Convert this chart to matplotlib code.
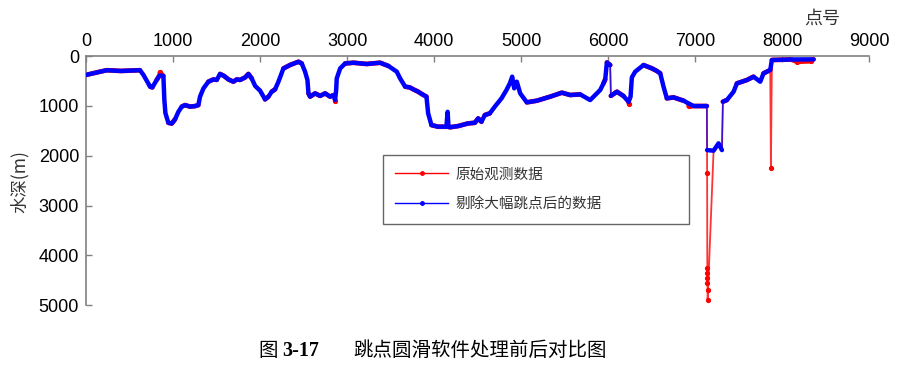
#!/usr/bin/env python3
"""
Depth profile before / after jump-point smoothing (figure 3-17).
Output: out.png
"""

import matplotlib
matplotlib.use("Agg")
import matplotlib.pyplot as plt
from matplotlib.lines import Line2D
import numpy as np

# ---------------------------------------------------------------------------
# Style
# ---------------------------------------------------------------------------
RAW_COLOR = "#ff0000"
CLEAN_COLOR = "#0000ff"
SPINE_GRAY = "#808080"
TEXT_DARK = "#333333"
CJK = ["Noto Sans CJK SC", "DejaVu Sans"]

plt.rcParams.update({
    "font.family": ["Liberation Sans", "Noto Sans CJK SC", "DejaVu Sans"],
    "font.size": 13,
})

# ---------------------------------------------------------------------------
# Data
# ---------------------------------------------------------------------------
# point number / depth (m) of the cleaned profile
POINT_NO = [
    0, 160, 240, 400, 620, 660, 736, 762, 812, 845, 889, 900, 912, 946, 985,
    1023, 1061, 1100, 1138, 1195, 1253, 1291, 1310, 1349, 1406, 1464, 1502,
    1540, 1586, 1636, 1693, 1732, 1770, 1828, 1866, 1904, 1943, 2000, 2057,
    2096, 2134, 2172, 2211, 2268, 2345, 2441, 2479, 2517, 2544, 2556, 2575,
    2632, 2690, 2747, 2805, 2843, 2862, 2874, 2881, 2920, 2977, 3073, 3226,
    3379, 3475, 3571, 3609, 3667, 3720, 3762, 3816, 3858, 3912, 3931, 3969,
    4046, 4141, 4155, 4165, 4180, 4276, 4391, 4468, 4506, 4544, 4582, 4640,
    4697, 4774, 4831, 4870, 4897, 4920, 4950, 4989, 5065, 5180, 5333, 5468,
    5563, 5678, 5793, 5851, 5908, 5946, 5966, 5985, 6023, 6031, 6100, 6176,
    6234, 6257, 6272, 6310, 6406, 6502, 6559, 6598, 6636, 6674, 6751, 6866,
    6981, 7134, 7136, 7211, 7268, 7307, 7318, 7364, 7441, 7479, 7594, 7670,
    7747, 7785, 7862, 7881, 8100, 8360,
]
CLEAN_DEPTH = [
    380, 315, 285, 300, 285, 380, 615, 630, 480, 390, 400, 880, 1145, 1340, 1355,
    1270, 1120, 1015, 985, 1015, 1005, 985, 815, 650, 515, 470, 480,
    360, 400, 470, 515, 470, 480, 430, 360, 450, 600, 695, 870,
    815, 715, 670, 515, 250, 180, 115, 150, 315, 480, 750, 815,
    750, 800, 750, 815, 785, 880, 685, 450, 250, 150, 135, 160,
    135, 200, 315, 450, 615, 630, 670, 716, 763, 816, 1150, 1386,
    1419, 1419, 1120, 1420, 1430, 1406, 1352, 1340, 1252, 1320, 1185, 1150,
    1017, 850, 683, 549, 415, 649, 515, 750, 930, 897, 816, 736,
    783, 770, 884, 783, 683, 549, 470, 130, 181, 800, 716, 803,
    920, 816, 430, 315, 181, 248, 300, 348, 616, 850, 830, 897,
    1004, 1004, 1888, 1900, 1753, 1888, 917, 884, 716, 549, 482, 415,
    516, 348, 281, 80, 70, 67,
]

# extra points present only in the original (raw) record
RAW_ONLY_NO = [850, 2866, 6240, 6925, 7137, 7138, 7139, 7140, 7141, 7142,
               7143, 7870, 8170, 8325]
RAW_ONLY_DEPTH = [330, 910, 960, 1010, 2340, 4250, 4350, 4450, 4550, 4700,
                  4890, 2250, 115, 105]

X_TICKS = [0, 1000, 2000, 3000, 4000, 5000, 6000, 7000, 8000, 9000]
Y_TICKS = [0, 1000, 2000, 3000, 4000, 5000]

LEGEND_LABELS = ["原始观测数据", "剔除大幅跳点后的数据"]
X_LABEL = "点号"
Y_LABEL = "水深(m)"
CAPTION_NO = "3-17"
CAPTION_TEXT = "跳点圆滑软件处理前后对比图"


def thick_segments(x, d, jump):
    """Break the heavy (dense-dot) stroke at big vertical jumps."""
    xs, ds = [x[0]], [d[0]]
    for i in range(1, len(x)):
        if abs(d[i] - d[i - 1]) > jump:
            xs.append(np.nan)
            ds.append(np.nan)
        xs.append(x[i])
        ds.append(d[i])
    return xs, ds


def main():
    clean_x = np.array(POINT_NO, dtype=float)
    clean_d = np.array(CLEAN_DEPTH, dtype=float)
    raw_x = np.concatenate([clean_x, RAW_ONLY_NO])
    raw_d = np.concatenate([clean_d, RAW_ONLY_DEPTH])
    order = np.argsort(raw_x, kind="stable")
    raw_x, raw_d = raw_x[order], raw_d[order]

    fig = plt.figure(figsize=(8.98, 3.81), dpi=100)
    ax = fig.add_axes([0.0958, 0.199, 0.8722, 0.654])

    # raw record: thin connecting line + heavy dotted stroke
    ax.plot(raw_x, raw_d, color=RAW_COLOR, lw=1.3, alpha=0.8, zorder=2)
    tx, td = thick_segments(raw_x, raw_d, jump=90)
    ax.plot(tx, td, color=RAW_COLOR, lw=3.4, solid_capstyle="round",
            solid_joinstyle="round", zorder=2)
    ax.plot(RAW_ONLY_NO, RAW_ONLY_DEPTH, ls="none", marker=".",
            color=RAW_COLOR, ms=5.5, zorder=2)

    # cleaned record on top
    ax.plot(clean_x, clean_d, color=CLEAN_COLOR, lw=1.1, alpha=0.75, zorder=3)
    tx, td = thick_segments(clean_x, clean_d, jump=550)
    ax.plot(tx, td, color=CLEAN_COLOR, lw=3.2, solid_capstyle="round",
            solid_joinstyle="round", zorder=3)

    # axes: x on top, depth downward
    ax.set_xlim(0, 9000)
    ax.set_ylim(5000, 0)
    ax.xaxis.tick_top()
    ax.set_xticks(X_TICKS)
    ax.set_yticks(Y_TICKS)
    ax.tick_params(axis="both", direction="in", length=4, width=1,
                   colors=SPINE_GRAY, labelcolor="black", labelsize=13)
    ax.tick_params(axis="x", pad=4)
    ax.tick_params(axis="y", pad=5)
    for s in ("right", "bottom"):
        ax.spines[s].set_visible(False)
    for s in ("left", "top"):
        ax.spines[s].set_color(SPINE_GRAY)
        ax.spines[s].set_linewidth(1.2)

    fig.text(822 / 898, 1 - 19 / 381, X_LABEL, family=CJK, fontsize=13,
             color=TEXT_DARK, ha="center", va="center")
    fig.text(20 / 898, 1 - 182 / 381, Y_LABEL, family=CJK, fontsize=12.5,
             color=TEXT_DARK, ha="center", va="center", rotation=90)

    # legend
    handles = [
        Line2D([], [], color=RAW_COLOR, lw=1, marker=".", ms=5),
        Line2D([], [], color=CLEAN_COLOR, lw=1, marker=".", ms=5),
    ]
    leg = ax.legend(
        handles, LEGEND_LABELS,
        loc="upper left", mode="expand",
        bbox_to_anchor=(383 / 898, 163 / 381, 306 / 898, 63 / 381),
        bbox_transform=fig.transFigure,
        prop={"family": CJK, "size": 10.5},
        frameon=True, fancybox=False, framealpha=1,
        edgecolor="#666666", borderpad=0.85, labelspacing=1.1,
        handlelength=3.6, handletextpad=0.5, borderaxespad=0,
    )
    for t in leg.get_texts():
        t.set_color(TEXT_DARK)
    leg.get_frame().set_linewidth(1.0)
    leg.set_zorder(5)

    # caption
    fig.text(258 / 898, 1 - 350 / 381, "图", family=CJK, fontsize=14,
             ha="left", va="center")
    fig.text(282 / 898, 1 - 351 / 381, CAPTION_NO, family="Liberation Serif",
             fontweight="bold", fontsize=14.5, ha="left", va="center")
    fig.text(353 / 898, 1 - 350 / 381, CAPTION_TEXT, family=CJK, fontsize=14,
             ha="left", va="center")

    fig.savefig("out.png", dpi=100, facecolor="white")
    plt.close(fig)


if __name__ == "__main__":
    main()
